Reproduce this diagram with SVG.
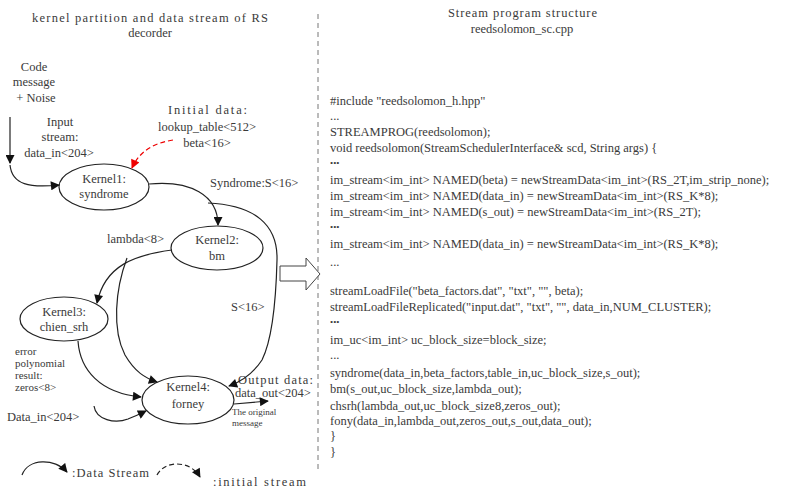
<svg xmlns="http://www.w3.org/2000/svg" width="803" height="489" viewBox="0 0 803 489">
<defs>
<marker id="ah" viewBox="0 0 10 10" refX="9" refY="5" markerWidth="10" markerHeight="9" markerUnits="userSpaceOnUse" orient="auto"><path d="M0,0 L10,5 L0,10 z" fill="#111"/></marker>
<marker id="ahr" viewBox="0 0 10 10" refX="9" refY="5" markerWidth="10" markerHeight="9" markerUnits="userSpaceOnUse" orient="auto"><path d="M0,0 L10,5 L0,10 z" fill="#e00"/></marker>
</defs>
<style>
text{font-family:"Liberation Serif",serif;fill:#3a3a3a;font-size:12.5px}
.c{text-anchor:middle}
.code{font-size:13.1px}
.sm{font-size:9px}
.tiny{font-size:11px}
.node ellipse{fill:#fff;stroke:#222;stroke-width:1.2}
.e{fill:none;stroke:#222;stroke-width:1.2}
</style>
<rect width="803" height="489" fill="#fff"/>
<g id="titles">
<text x="32" y="22" textLength="236" lengthAdjust="spacing">kernel partition and data stream of RS</text>
<text class="c" x="150" y="37">decorder</text>
<text x="448" y="17" textLength="149" lengthAdjust="spacing">Stream program structure</text>
<text class="c" x="522" y="33">reedsolomon_sc.cpp</text>
</g>
<line x1="318" y1="14" x2="318" y2="472" stroke="#777" stroke-width="1" stroke-dasharray="5,4"/>
<g id="labels">
<text class="c" x="34" y="71">Code</text>
<text class="c" x="34" y="86">message</text>
<text class="c" x="36" y="102">+ Noise</text>
<text class="c" x="60" y="126">Input</text>
<text class="c" x="60" y="141">stream:</text>
<text class="c" x="59" y="157">data_in&lt;204&gt;</text>
<text x="168" y="114" textLength="79" lengthAdjust="spacing">Initial data:</text>
<text class="c" x="207" y="131">lookup_table&lt;512&gt;</text>
<text class="c" x="207" y="147">beta&lt;16&gt;</text>
<text x="210" y="187">Syndrome:S&lt;16&gt;</text>
<text x="107" y="243">lambda&lt;8&gt;</text>
<text x="231" y="311">S&lt;16&gt;</text>
<text class="tiny" x="15" y="355">error</text>
<text class="tiny" x="15" y="367">polynomial</text>
<text class="tiny" x="15" y="379">result:</text>
<text class="tiny" x="15" y="391">zeros&lt;8&gt;</text>
<text x="7" y="421">Data_in&lt;204&gt;</text>
<text x="238" y="384" textLength="75" lengthAdjust="spacing">Output data:</text>
<text x="235" y="397">data_out&lt;204&gt;</text>
<text class="sm" x="232" y="415">The original</text>
<text class="sm" x="232" y="426">message</text>
<text x="72" y="477" textLength="77" lengthAdjust="spacing">:Data Stream</text>
<text x="213" y="486" textLength="93" lengthAdjust="spacing">:initial stream</text>
</g>
<g id="kernel1" class="node"><ellipse cx="104" cy="187" rx="45" ry="23"/><text class="c" x="104" y="183">Kernel1:</text><text class="c" x="104" y="198">syndrome</text></g>
<g id="kernel2" class="node"><ellipse cx="217" cy="248" rx="46" ry="22"/><text class="c" x="217" y="244">Kernel2:</text><text class="c" x="217" y="260">bm</text></g>
<g id="kernel3" class="node"><ellipse cx="64" cy="319" rx="44" ry="22"/><text class="c" x="64" y="316">Kernel3:</text><text class="c" x="64" y="331">chien_srh</text></g>
<g id="kernel4" class="node"><ellipse cx="188" cy="400" rx="46" ry="24"/><text class="c" x="188" y="391">Kernel4:</text><text class="c" x="188" y="408">forney</text></g>
<g id="connectors">
<path class="e" d="M10,117 L10,163" marker-end="url(#ah)"/>
<path class="e" d="M10,165 C12,185 30,188 59,185" marker-end="url(#ah)"/>
<path d="M173,140 C155,143 140,150 132,168" fill="none" stroke="#e00" stroke-width="1.2" stroke-dasharray="5,3" marker-end="url(#ahr)"/>
<path class="e" d="M149,184 C190,180 218,195 218,225" marker-end="url(#ah)"/>
<path class="e" d="M208,203 C255,205 278,225 277,260 C276,300 272,340 262,360 C252,375 240,382 229,386" marker-end="url(#ah)"/>
<path class="e" d="M172,250 C135,255 105,265 97,303" marker-end="url(#ah)"/>
<path class="e" d="M127,258 C115,290 112,330 125,355 C135,372 145,378 157,382" marker-end="url(#ah)"/>
<path class="e" d="M78,341 C80,370 100,393 141,397" marker-end="url(#ah)"/>
<path class="e" d="M94,406 C96,420 115,424 128,419 C135,416 140,414 146,411" marker-end="url(#ah)"/>
<path class="e" d="M234,404 L268,401" marker-end="url(#ah)"/>
<path class="e" d="M22,475 C28,458 55,458 67,472" marker-end="url(#ah)"/>
<path class="e" d="M157,475 C165,460 190,460 200,477" stroke-dasharray="5,3" marker-end="url(#ah)"/>
<path d="M280,266 L306,266 L306,258 L320,274 L306,290 L306,281 L280,281 Z" fill="#fff" stroke="#444" stroke-width="1"/>
</g>
<g id="code" class="code">
<text x="330" y="105">#include "reedsolomon_h.hpp"</text>
<text x="330" y="120">...</text>
<text x="330" y="136">STREAMPROG(reedsolomon);</text>
<text x="330" y="152">void reedsolomon(StreamSchedulerInterface&amp; scd, String args) {</text>
<text x="330" y="166" style="font-size:9px">•••</text>
<text x="330" y="184">im_stream&lt;im_int&gt; NAMED(beta) = newStreamData&lt;im_int&gt;(RS_2T,im_strip_none);</text>
<text x="330" y="200">im_stream&lt;im_int&gt; NAMED(data_in) = newStreamData&lt;im_int&gt;(RS_K*8);</text>
<text x="330" y="216">im_stream&lt;im_int&gt; NAMED(s_out) = newStreamData&lt;im_int&gt;(RS_2T);</text>
<text x="330" y="230" style="font-size:9px">•••</text>
<text x="330" y="248">im_stream&lt;im_int&gt; NAMED(data_in) = newStreamData&lt;im_int&gt;(RS_K*8);</text>
<text x="330" y="266">...</text>
<text x="330" y="295">streamLoadFile("beta_factors.dat", "txt", "", beta);</text>
<text x="330" y="311">streamLoadFileReplicated("input.dat", "txt", "", data_in,NUM_CLUSTER);</text>
<text x="330" y="325" style="font-size:9px">•••</text>
<text x="330" y="344">im_uc&lt;im_int&gt; uc_block_size=block_size;</text>
<text x="330" y="359">...</text>
<text x="330" y="377">syndrome(data_in,beta_factors,table_in,uc_block_size,s_out);</text>
<text x="330" y="393">bm(s_out,uc_block_size,lambda_out);</text>
<text x="330" y="410">chsrh(lambda_out,uc_block_size8,zeros_out);</text>
<text x="330" y="425">fony(data_in,lambda_out,zeros_out,s_out,data_out);</text>
<text x="330" y="440">}</text>
<text x="330" y="456">}</text>
</g>
</svg>
